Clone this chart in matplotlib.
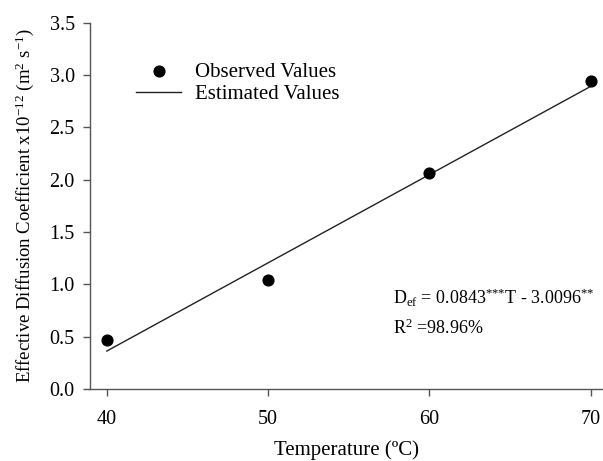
import matplotlib
matplotlib.use("Agg")
import matplotlib.pyplot as plt
import numpy as np

plt.rcParams['font.family'] = ['Liberation Serif', 'DejaVu Serif']
plt.rcParams['mathtext.fontset'] = 'custom'
plt.rcParams['mathtext.rm'] = 'Liberation Serif'
plt.rcParams['mathtext.it'] = 'Liberation Serif:italic'
plt.rcParams['mathtext.bf'] = 'Liberation Serif:bold'

temperature = [40, 50, 60, 70]
observed = [0.47, 1.04, 2.06, 2.94]
slope = 0.0843
intercept = -3.0096
xticks = [40, 50, 60, 70]
yticks = [0.0, 0.5, 1.0, 1.5, 2.0, 2.5, 3.0, 3.5]

fig = plt.figure(figsize=(6.03, 4.61), dpi=100)
ax = fig.add_axes([0.1493, 0.1562, 0.8490, 0.7946])

t_line = np.array([temperature[0], temperature[-1]])
est = slope * t_line + intercept
ax.plot(t_line, est, color='#222222', lw=1.0, label='Estimated Values')
ax.scatter(temperature, observed, s=60, color='black', zorder=3, label='Observed Values')

ax.set_xlim(38.96, 70.7)
ax.set_ylim(0, 3.5)
ax.set_xticks(xticks)
ax.set_yticks(yticks)
ax.set_yticklabels([f"{v:.1f}" for v in yticks])
for s in ['top', 'right']:
    ax.spines[s].set_visible(False)
for s in ['left', 'bottom']:
    ax.spines[s].set_color('#555555')
    ax.spines[s].set_linewidth(1.0)
ax.tick_params(direction='out', length=5, width=1, color='#555555', labelsize=14.5)
ax.tick_params(axis='y', pad=6)
ax.tick_params(axis='x', pad=10)

ax.set_xlabel('Temperature (ºC)', fontsize=15, labelpad=8)
ax.set_ylabel(r'Effective Diffusion Coefficient x10$^{\mathrm{-12}}$ (m$^{\mathrm{2}}$ s$^{\mathrm{-1}}$)',
              fontsize=13.5, labelpad=10)

h, l = ax.get_legend_handles_labels()
ax.legend([h[1], h[0]], [l[1], l[0]], loc='center left', bbox_to_anchor=(0.089, 0.835),
          frameon=False, fontsize=15, handlelength=2.2, handletextpad=0.65,
          labelspacing=0.15, borderpad=0, borderaxespad=0)

ax.text(393, 461 - 298, r'D$_{\mathrm{ef}}$ = 0.0843$^{\text{***}}$T - 3.0096$^{\text{**}}$',
        transform=None, fontsize=13, va='center')
ax.text(393, 461 - 328, r'R$^{\mathrm{2}}$ =98.96%', transform=None, fontsize=13, va='center')

fig.savefig('out.png', dpi=100)
